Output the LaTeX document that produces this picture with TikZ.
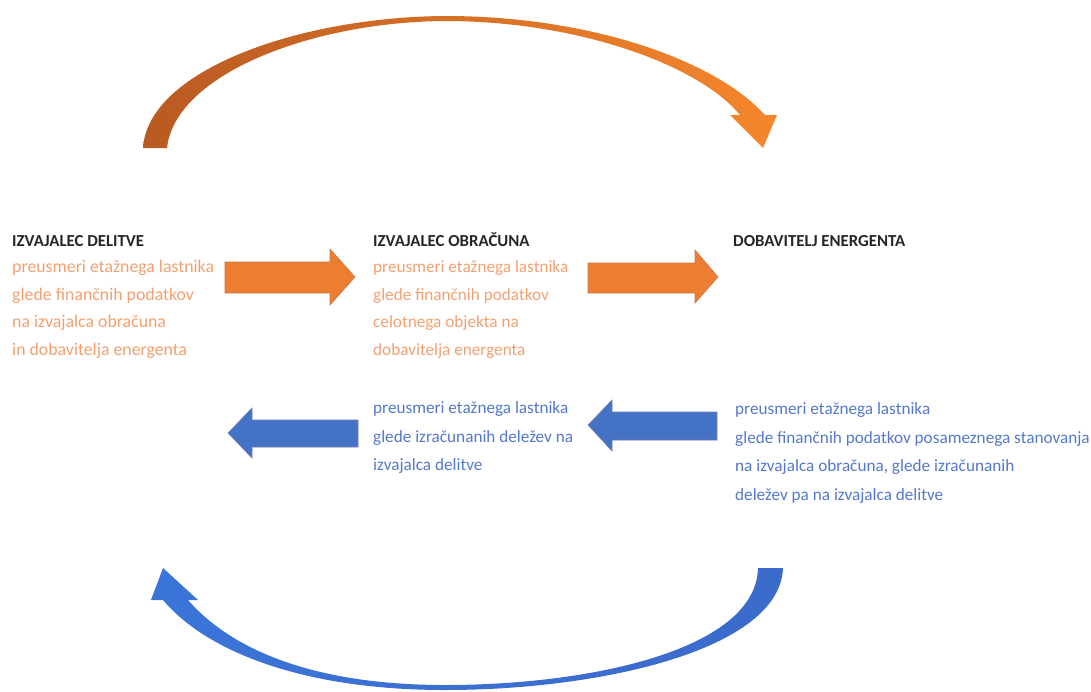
\documentclass[tikz,border=0pt]{standalone}
\usepackage{fontspec}
\setmainfont{Carlito}
\definecolor{orA}{HTML}{ED7D31}
\definecolor{orD}{HTML}{B95A22}
\definecolor{orL}{HTML}{F5862C}
\definecolor{orT}{HTML}{F2A070}
\definecolor{blA}{HTML}{4472C4}
\definecolor{blL}{HTML}{3B74D8}
\definecolor{blD}{HTML}{3A4796}
\definecolor{blT}{HTML}{5478CC}
\tikzset{
  hdr/.style={inner sep=0pt, anchor=base west, font=\fontsize{16.8}{18}\selectfont\bfseries, text=black!85},
  body/.style={inner sep=0pt, anchor=north west, align=left},
  orbody/.style={body, text=orT, font=\fontsize{17.2}{27.5}\selectfont},
  blbody/.style={body, text=blT, font=\fontsize{17.2}{28.5}\selectfont},
  orarrow/.style={fill=orA, draw=orD!80, line width=0.6pt},
  blarrow/.style={fill=blA, draw=blD!70, line width=0.6pt},
}
\begin{document}
\begin{tikzpicture}[x=1pt,y=-1pt]
\useasboundingbox (0,0) rectangle (1091,691);
% top curved arrow
\shade[left color=orD, right color=orL]
  (143,148) .. controls (148,70) and (300,17) .. (445,16)
  .. controls (590,16) and (715,60) .. (765,115)
  -- (777,115) -- (763,148) -- (730,115) -- (740,115)
  .. controls (700,66) and (580,21) .. (445,21)
  .. controls (310,22) and (175,75) .. (167,148) -- cycle;
% bottom curved arrow
\shade[left color=blL, middle color=blD, right color=blL!80!blD]
  (783,568) .. controls (780,650) and (600,690) .. (445,690)
  .. controls (300,690) and (205,650) .. (163,600)
  -- (151,600) -- (163,568) -- (198,600) -- (188,600)
  .. controls (230,648) and (310,685) .. (445,685)
  .. controls (590,685) and (756,650) .. (758,568) -- cycle;
% horizontal arrows
\fill[orarrow] (225,262) -- (330,262) -- (330,249) -- (355,277) -- (330,305) -- (330,293) -- (225,293) -- cycle;
\fill[orarrow] (588,263) -- (695,263) -- (695,250) -- (718,277) -- (695,303) -- (695,293) -- (588,293) -- cycle;
\fill[blarrow] (358,420) -- (252,420) -- (252,408) -- (228,433) -- (252,458) -- (252,447) -- (358,447) -- cycle;
\fill[blarrow] (717,412) -- (612,412) -- (612,400) -- (588,425) -- (612,451) -- (612,440) -- (717,440) -- cycle;
% texts
\node[hdr] (h1) at (12,246) {IZVAJALEC DELITVE};
\node[hdr] (h2) at (373,246) {IZVAJALEC OBRAČUNA};
\node[hdr] (h3) at (733,246) {DOBAVITELJ ENERGENTA};
\node[orbody, font=\fontsize{17.8}{27.5}\selectfont] (t1) at (12,260) {preusmeri etažnega lastnika\\glede finančnih podatkov\\na izvajalca obračuna\\in dobavitelja energenta};
\node[orbody] (t2) at (373,260.5) {preusmeri etažnega lastnika\\glede finančnih podatkov\\celotnega objekta na\\dobavitelja energenta};
\node[blbody] (t3) at (373,401.5) {preusmeri etažnega lastnika\\glede izračunanih deležev na\\izvajalca delitve};
\node[blbody] (t4) at (735,402.5) {preusmeri etažnega lastnika\\glede finančnih podatkov posameznega stanovanja\\na izvajalca obračuna, glede izračunanih\\deležev pa na izvajalca delitve};
\end{tikzpicture}
\end{document}
